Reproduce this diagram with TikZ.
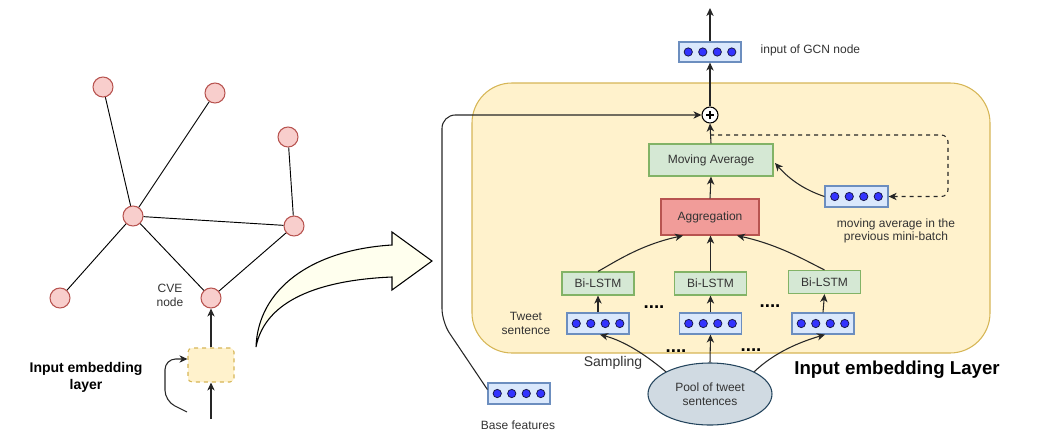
\documentclass[tikz,border=0pt]{standalone}
\usepackage{fontspec}
\setmainfont{Liberation Sans}
\usetikzlibrary{arrows.meta,shapes.geometric}
\definecolor{txt}{HTML}{333333}
\definecolor{gfill}{HTML}{F8CECC}
\definecolor{gdraw}{HTML}{B85450}
\definecolor{yfill}{HTML}{FFF2CC}
\definecolor{ydraw}{HTML}{D6B656}
\definecolor{vfill}{HTML}{DAE8FC}
\definecolor{vdraw}{HTML}{6C8EBF}
\definecolor{gbfill}{HTML}{D5E8D4}
\definecolor{gbdraw}{HTML}{82B366}
\definecolor{aggfill}{HTML}{F19C99}
\definecolor{aggdraw}{HTML}{B85450}
\definecolor{poolfill}{HTML}{D0DAE2}
\definecolor{pooldraw}{HTML}{23445D}
\definecolor{dotblue}{HTML}{3333FF}
\definecolor{dotline}{HTML}{1A1A4D}
\definecolor{bigarrow}{HTML}{FFFFEE}
\newcommand\vecdots[1]{\foreach \k in {-1.5,-0.5,0.5,1.5}{\filldraw[fill=dotblue,draw=dotline,line width=0.6pt] ([xshift=\k*10.875pt]#1.center) circle[radius=3.1pt];}}
\begin{document}
\begin{tikzpicture}[x=0.75pt,y=-0.75pt,
  font=\fontsize{9}{10.5}\selectfont, text=txt,
  arr/.style={draw=black!85, line width=0.8pt, -{Stealth[length=6pt,width=5.5pt,inset=1.8pt]}},
  edge/.style={draw=black, line width=0.7pt},
  gnode/.style={circle, fill=gfill, draw=gdraw, line width=0.8pt, minimum size=15pt, inner sep=0pt},
  vecbox/.style={draw=vdraw, fill=vfill, line width=0.9pt, minimum width=46.5pt, minimum height=15.75pt, inner sep=0pt},
  lstm/.style={draw=gbdraw, fill=gbfill, line width=0.9pt, minimum width=54pt, minimum height=17.25pt, inner sep=0pt},
  dotsty/.style={font=\bfseries\fontsize{14}{14}\selectfont, text=black, anchor=base, inner sep=0pt},
]
\useasboundingbox (0,0) rectangle (1038,446);

% ---------- left graph ----------
\node[gnode] (g1) at (103,87) {};
\node[gnode] (g2) at (215,93) {};
\node[gnode] (g3) at (288,137) {};
\node[gnode] (hub) at (133,216) {};
\node[gnode] (g5) at (294,226) {};
\node[gnode] (g6) at (60,298) {};
\node[gnode] (cve) at (211,298) {};
\draw[edge] (hub) -- (g1);
\draw[edge] (hub) -- (g2);
\draw[edge] (hub) -- (g5);
\draw[edge] (hub) -- (g6);
\draw[edge] (hub) -- (cve);
\draw[edge] (g3) -- (g5);
\draw[edge] (g5) -- (cve);
\node[align=center] (cvelbl) at (170,295) {CVE\\node};

\node[draw=ydraw, fill=yfill, dashed, line width=0.8pt, rounded corners=3pt, minimum width=34.5pt, minimum height=25.5pt, inner sep=0pt] (emb) at (211,365) {};
\coordinate (embin) at (211,419);
\draw[arr] (embin) -- (emb.south);
\draw[arr] (emb.north) -- (cve.south);
\coordinate (loopst) at (187,412);
\draw[arr, rounded corners=8pt] (loopst) -- (165,401) -- (165,359) -- ([yshift=4.5pt]emb.west);
\node[align=center, text=black, font=\bfseries\fontsize{10.5}{12.75}\selectfont] (emblbl) at (86,377) {Input embedding\\layer};

% ---------- big curved arrow ----------
\draw[fill=bigarrow, draw=black, line width=0.8pt] (256,347) .. controls (258,290) and (310,250) .. (392,245) -- (392,232) -- (432,261) -- (392,290) -- (392,277) .. controls (320,280) and (265,300) .. (256,347) -- cycle;

% ---------- right panel ----------
\draw[draw=ydraw, fill=yfill, line width=0.8pt, rounded corners=30pt] (472,83) rectangle (990,353);

\node[vecbox, minimum height=15pt] (topvec) at (710,52) {};
\vecdots{topvec}
\coordinate (outtop) at (710,8);
\draw[arr] (topvec.north) -- (outtop);
\node[anchor=west] (gcnlbl) at (756,50) {input of GCN node};

\node[circle, draw=black, fill=white, line width=0.8pt, minimum size=12pt, inner sep=0pt] (plus) at (710,115) {};
\draw[line width=1.1pt, black] ([xshift=-3pt]plus.center) -- ([xshift=3pt]plus.center);
\draw[line width=1.1pt, black] ([yshift=-3pt]plus.center) -- ([yshift=3pt]plus.center);
\draw[arr] (plus.north) -- (topvec.south);

\node[draw=gbdraw, fill=gbfill, line width=0.9pt, minimum width=93pt, minimum height=24pt, inner sep=0pt] (ma) at (711,160) {Moving Average};
\draw[arr] (ma.north) -- (plus.south);

\node[draw=aggdraw, fill=aggfill, line width=0.9pt, minimum width=73.5pt, minimum height=27pt, inner sep=0pt] (agg) at (710,217) {Aggregation};
\draw[arr] (agg.north) -- (ma.south);

\node[vecbox, minimum width=47.25pt] (prev) at (856.5,196.5) {};
\vecdots{prev}
\coordinate (dj) at (710,135);
\draw[arr, dashed, rounded corners=5pt] (dj) -- (948,135) -- (948,196.5) -- (prev.east);
\draw[arr] (prev.west) .. controls (805,190) and (790,180) .. (775,163);
\node[align=center, font=\fontsize{9}{10}\selectfont] (prevlbl) at (896,231) {moving average in the\\previous mini-batch};

\node[lstm] (b1) at (598,283.5) {Bi-LSTM};
\node[lstm] (b2) at (710.5,283.5) {Bi-LSTM};
\node[lstm] (b3) at (824.5,282) {Bi-LSTM};
\node[vecbox] (t1) at (598,323.5) {};
\node[vecbox] (t2) at (710.5,323.5) {};
\node[vecbox] (t3) at (823,323.5) {};
\vecdots{t1}
\vecdots{t2}
\vecdots{t3}
\draw[arr] (t1.north) -- (b1.south);
\draw[arr] (t2.north) -- (b2.south);
\draw[arr] (t3.north) -- (b3.south);
\draw[arr] (b1.north) .. controls (615,262) and (640,245) .. ([xshift=-20.25pt]agg.south);
\draw[arr] (b2.north) -- (b2.north |- agg.south);
\draw[arr] (b3.north) .. controls (808,262) and (780,245) .. ([xshift=20.25pt]agg.south);

\node[dotsty] (d1) at (654,308) {....};
\node[dotsty] (d2) at (770,307) {....};
\node[dotsty] (d3) at (676,352) {....};
\node[dotsty] (d4) at (751,351) {....};

\node[align=center, font=\fontsize{9}{11}\selectfont] (tweetlbl) at (526,323.5) {Tweet\\sentence};

\node[ellipse, draw=pooldraw, fill=poolfill, line width=0.8pt, minimum width=93pt, minimum height=46.5pt, inner sep=0pt, align=center] (pool) at (710,394) {Pool of tweet\\sentences};
\draw[arr] (pool.north) -- (t2.south);
\draw[arr] (pool.north west) .. controls (640,350) and (620,340) .. ([xshift=1.5pt]t1.south);
\draw[arr] (pool.north east) .. controls (775,352) and (800,342) .. ([xshift=1.5pt]t3.south);

\node[font=\fontsize{10.5}{12}\selectfont] (samp) at (613,363) {Sampling};
\node[text=black, font=\bfseries\fontsize{14}{16}\selectfont] (iel) at (897,370) {Input embedding Layer};

\node[vecbox, minimum width=46.5pt] (base) at (519,393.5) {};
\vecdots{base}
\node (baselbl) at (518,425) {Base features};
\draw[arr, rounded corners=10pt] ([yshift=3pt]base.west) -- (442,322) -- (442,115) -- (plus.west);
\end{tikzpicture}
\end{document}
